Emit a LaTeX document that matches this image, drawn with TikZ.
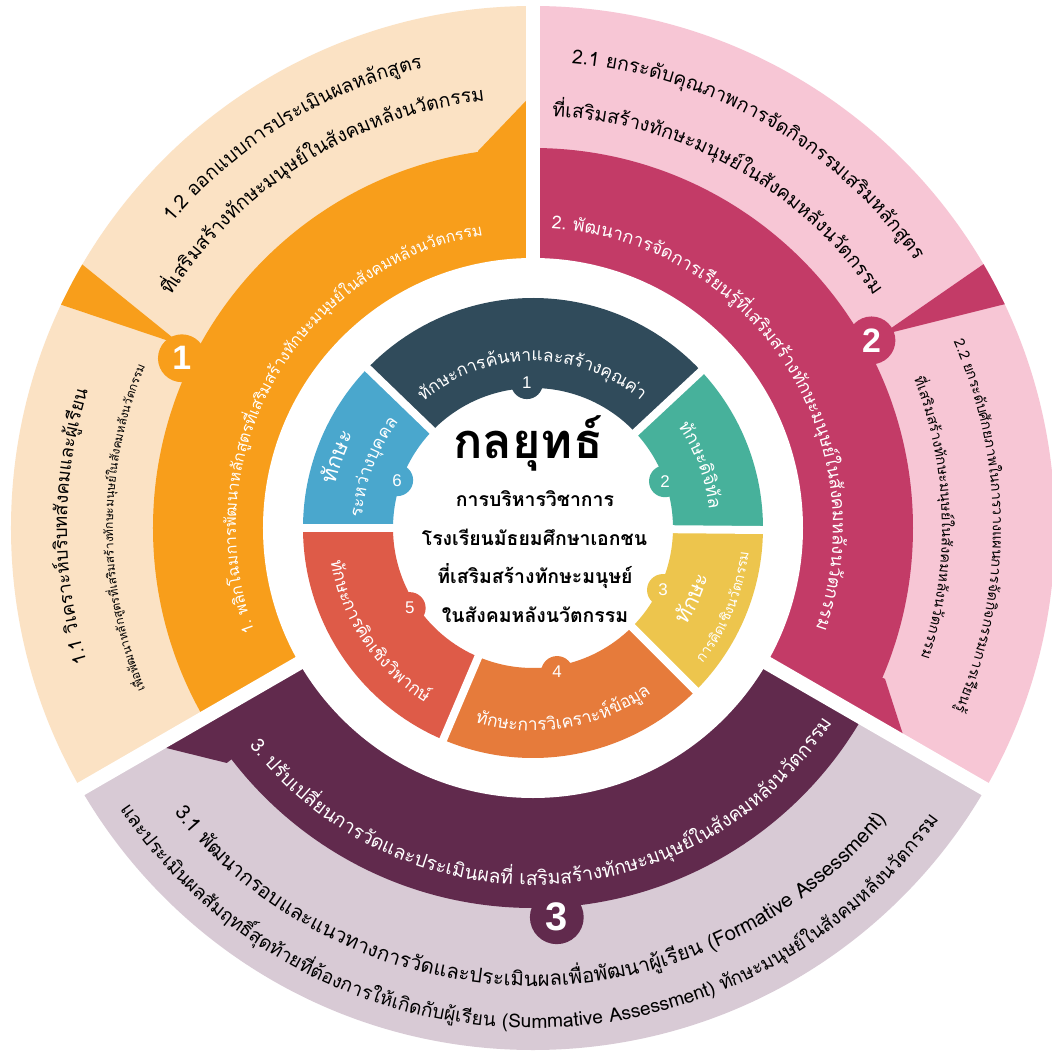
\documentclass[tikz,border=0pt]{standalone}
\usepackage{fontspec}
\setmainfont{Loma}[Script=Thai]
\newfontfamily\numfont{Liberation Sans}
\usetikzlibrary{decorations.text}

\definecolor{peach}{HTML}{FBE2C4}
\definecolor{amber}{HTML}{F89E1B}
\definecolor{blush}{HTML}{F7C6D5}
\definecolor{rose}{HTML}{C33B67}
\definecolor{lilac}{HTML}{D8CAD5}
\definecolor{plum}{HTML}{612A4D}
\definecolor{slate}{HTML}{304B5B}
\definecolor{jade}{HTML}{47B19B}
\definecolor{mustard}{HTML}{EDC54D}
\definecolor{tangerine}{HTML}{E67B3B}
\definecolor{coral}{HTML}{DE5B48}
\definecolor{sky}{HTML}{4AA7CD}

\newcommand\tsize[1]{\fontsize{#1}{#1}\selectfont}

\begin{document}
\begin{tikzpicture}[x=1bp, y=1bp,
    bump/.style={circle, inner sep=0pt, minimum size=48, text=white, font=\numfont\tsize{34}\bfseries},
    dot/.style={circle, inner sep=0pt, minimum size=32, text=white, font=\numfont\tsize{17}},
    gap/.style={white, line width=14},
    thin gap/.style={white, line width=8},
    arctext/.style={decorate, decoration={text along path, text align=center, text={#1}}},
    light/.style={decoration={text color=white}}]
  \useasboundingbox (-533,-527) rectangle (519,528);
  \fill[white] (-533,-527) rectangle (519,528);

  % sector 1
  \begin{scope}
    \clip (0,0) -- (90:900) -- (150:900) -- (210:900) -- cycle;
    \fill[peach] (0,0) circle[radius=522];
    \fill[amber] (0,0) circle[radius=380];
    \fill[amber] (98.3:300) -- (98.3:381) -- (10,445) -- (60:300) -- cycle;
    \clip (0,0) circle[radius=522];
    \fill[amber] (152.5:395) -- (149.4:540) -- (154.9:540) -- cycle;
  \end{scope}
  % sector 2
  \begin{scope}
    \clip (0,0) -- (-30:900) -- (30:900) -- (90:900) -- cycle;
    \fill[blush] (0,0) circle[radius=522];
    \fill[rose] (0,0) circle[radius=380];
    \fill[rose] (-23.2:300) -- (-23.2:383) -- (375,-222) -- (-60:300) -- cycle;
    \clip (0,0) circle[radius=522];
    \fill[rose] (29:398) -- (25:540) -- (30.5:540) -- cycle;
  \end{scope}
  % sector 3
  \begin{scope}
    \clip (0,0) -- (210:900) -- (270:900) -- (330:900) -- cycle;
    \fill[lilac] (0,0) circle[radius=522];
    \fill[plum] (0,0) circle[radius=380];
    \fill[plum] (217.5:300) -- (217.5:386) -- (-395,-213) -- (170:300) -- cycle;
  \end{scope}

  \fill[white] (0,0) circle[radius=270];
  \draw[gap] (90:262) -- (90:600);
  \draw[gap] (210:262) -- (210:600);
  \draw[gap] (330:262) -- (330:600);

  % inner ring
  \fill[slate] (43:230) arc[start angle=43, end angle=136, radius=230] -- (136:140) arc[start angle=136, end angle=43, radius=140] -- cycle;
  \fill[jade] (-0.5:230) arc[start angle=-0.5, end angle=43, radius=230] -- (43:140) arc[start angle=43, end angle=-0.5, radius=140] -- cycle;
  \fill[mustard] (-45:230) arc[start angle=-45, end angle=-0.5, radius=230] -- (-0.5:140) arc[start angle=-0.5, end angle=-45, radius=140] -- cycle;
  \fill[tangerine] (-113:230) arc[start angle=-113, end angle=-45, radius=230] -- (-45:140) arc[start angle=-45, end angle=-113, radius=140] -- cycle;
  \fill[coral] (180:230) arc[start angle=180, end angle=247, radius=230] -- (247:140) arc[start angle=247, end angle=180, radius=140] -- cycle;
  \fill[sky] (136:230) arc[start angle=136, end angle=180, radius=230] -- (180:140) arc[start angle=180, end angle=136, radius=140] -- cycle;
  \draw[thin gap] (43:125) -- (43:240);
  \draw[thin gap] (136:125) -- (136:240);
  \draw[thin gap] (180:125) -- (180:240);
  \draw[thin gap] (247:125) -- (247:240);
  \draw[thin gap] (315:125) -- (315:240);
  \draw[thin gap] (-0.5:125) -- (-0.5:240);

  \node[dot, fill=slate] (s1) at (92.4:145) {1};
  \node[dot, fill=jade] (s2) at (19.5:140) {2};
  \node[dot, fill=mustard] (s3) at (-25.5:144) {3};
  \node[dot, fill=tangerine] (s4) at (-80.5:146) {4};
  \node[dot, fill=coral] (s5) at (213:147) {5};
  \node[dot, fill=sky] (s6) at (160.6:144) {6};

  \node[bump, fill=amber] (b1) at (154.2:390) {1};
  \node[bump, fill=rose] (b2) at (29:387) {2};
  \node[bump, fill=plum, minimum size=54, font=\numfont\tsize{40}\bfseries] (b3) at (-86.5:390) {3};

  % centre
  \node[anchor=base, font=\tsize{49}\bfseries] (title) at (-5,70) {กลยุทธ์};
  \node[anchor=base, font=\tsize{19.5}\bfseries] (line1) at (2,22) {การบริหารวิชาการ};
  \node[anchor=base, font=\tsize{19.5}\bfseries] (line2) at (1.5,-17) {โรงเรียนมัธยมศึกษาเอกชน};
  \node[anchor=base, font=\tsize{19.5}\bfseries] (line3) at (2,-55) {ที่เสริมสร้างทักษะมนุษย์};
  \node[anchor=base, font=\tsize{19.5}\bfseries] (line4) at (2,-94) {ในสังคมหลังนวัตกรรม};

  % inner ring texts
  \path[arctext={|\tsize{17.5}|{ทั}กษะการ{ค้}นหาและส{ร้}าง{คุ}ณ{ค่}า}, light] (140.3:167) arc[start angle=140.3, end angle=40.3, radius=167];
  \path[arctext={|\tsize{18}|{ทั}กษะ{ดิ}{จิ}{ทั}ล}, light] (50.5:177) arc[start angle=50.5, end angle=-9.5, radius=177];
  \path[arctext={|\tsize{22}|{ทั}กษะ}, light] (-53.8:182) arc[start angle=-53.8, end angle=6.2, radius=182];
  \path[arctext={|\tsize{14}|การ{คิ}ดเ{ชิ}งน{วั}ตกรรม}, light] (-62.5:217) arc[start angle=-62.5, end angle=17.5, radius=217];
  \path[arctext={|\tsize{17.5}|{ทั}กษะการ{วิ}เคราะ{ห์}{ข้}อ{มู}ล}, light] (239.5:203) arc[start angle=239.5, end angle=319.5, radius=203];
  \path[arctext={|\tsize{17.5}|{ทั}กษะการ{คิ}ดเ{ชิ}ง{วิ}พาก{ษ์}}, light] (173.9:205) arc[start angle=173.9, end angle=253.9, radius=205];
  \path[arctext={|\tsize{22}|{ทั}กษะ}, light] (190:202) arc[start angle=190, end angle=130, radius=202];
  \path[arctext={|\tsize{17.5}|ระห{ว่}าง{บุ}คคล}, light] (194.2:171) arc[start angle=194.2, end angle=124.2, radius=171];

  % middle ring texts
  \path[arctext={|\tsize{16}|1. พ{ลิ}กโฉมการ{พั}ฒนาห{ลั}ก{สู}ตร{ที่}เส{ริ}มส{ร้}าง{ทั}กษะม{นุ}ษ{ย์}ใน{สั}งคมห{ลั}งน{วั}ตกรรม}, light] (215:297) arc[start angle=215, end angle=85, radius=297];
  \path[arctext={|\tsize{18}|2. {พั}ฒนาการ{จั}ดการเ{รี}ยน{รู้}{ที่}เส{ริ}มส{ร้}าง{ทั}กษะม{นุ}ษ{ย์}ใน{สั}งคมห{ลั}งน{วั}ตกรรม}, light] (98.5:300) arc[start angle=98.5, end angle=-31.5, radius=300];
  \path[arctext={|\tsize{19.5}|3. ป{รั}บเป{ลี่}ยนการ{วั}ดและประเ{มิ}นผล{ที่} เส{ริ}มส{ร้}าง{ทั}กษะม{นุ}ษ{ย์}ใน{สั}งคมห{ลั}งน{วั}ตกรรม}, light] (207:357) arc[start angle=207, end angle=337.4, radius=357];

  % outer ring texts
  \path[arctext={|\tsize{19.5}|1.2 ออกแบบการประเ{มิ}นผลห{ลั}ก{สู}ตร}] (151.6:473) arc[start angle=151.6, end angle=91.6, radius=473];
  \path[arctext={|\tsize{19.5}|{ที่}เส{ริ}มส{ร้}าง{ทั}กษะม{นุ}ษ{ย์}ใน{สั}งคมห{ลั}งน{วั}ตกรรม}] (156.9:430) arc[start angle=156.9, end angle=86.9, radius=430];
  \path[arctext={|\tsize{18.5}|1.1 {วิ}เคราะ{ห์}บ{ริ}บท{สั}งคมและ{ผู้}เ{รี}ยน}] (204.8:466) arc[start angle=204.8, end angle=154.8, radius=466];
  \path[arctext={|\tsize{12}|เ{พื่}อ{พั}ฒนาห{ลั}ก{สู}ตร{ที่}เส{ริ}มส{ร้}าง{ทั}กษะม{นุ}ษ{ย์}ใน{สั}งคมห{ลั}งน{วั}ตกรรม}] (210:420) arc[start angle=210, end angle=150, radius=420];
  \path[arctext={|\tsize{19.5}|2.1 ยกระ{ดั}บ{คุ}ณภาพการ{จั}ด{กิ}จกรรมเส{ริ}มห{ลั}ก{สู}ตร}] (90.1:466) arc[start angle=90.1, end angle=30.1, radius=466];
  \path[arctext={|\tsize{19.5}|{ที่}เส{ริ}มส{ร้}าง{ทั}กษะม{นุ}ษ{ย์}ใน{สั}งคมห{ลั}งน{วั}ตกรรม}] (90.8:412) arc[start angle=90.8, end angle=30.8, radius=412];
  \path[arctext={|\tsize{14.5}|2.2 ยกระ{ดั}บ{ศั}กยภาพในการวางแผนการ{จั}ด{กิ}จกรรมการเ{รี}ยน{รู้}}] (30.25:460) arc[start angle=30.25, end angle=-29.75, radius=460];
  \path[arctext={|\tsize{14.5}|{ที่}เส{ริ}มส{ร้}าง{ทั}กษะม{นุ}ษ{ย์}ใน{สั}งคมห{ลั}งน{วั}ตกรรม}] (26.5:409) arc[start angle=26.5, end angle=-23.5, radius=409];
  \path[arctext={|\tsize{20.5}|3.1 {พั}ฒนากรอบและแนวทางการ{วั}ดและประเ{มิ}นผลเ{พื่}อ{พั}ฒนา{ผู้}เ{รี}ยน (Formative Assessment)}] (204.5:458) arc[start angle=204.5, end angle=334.5, radius=458];
  \path[arctext={|\tsize{19.2}|และประเ{มิ}นผล{สั}มฤท{ธิ์}{สุ}ด{ท้}าย{ที่}{ต้}องการใ{ห้}เ{กิ}ด{กั}บ{ผู้}เ{รี}ยน (Summative Assessment) {ทั}กษะม{นุ}ษ{ย์}ใน{สั}งคมห{ลั}งน{วั}ตกรรม}] (204.3:500) arc[start angle=204.3, end angle=334.3, radius=500];
\end{tikzpicture}
\end{document}
